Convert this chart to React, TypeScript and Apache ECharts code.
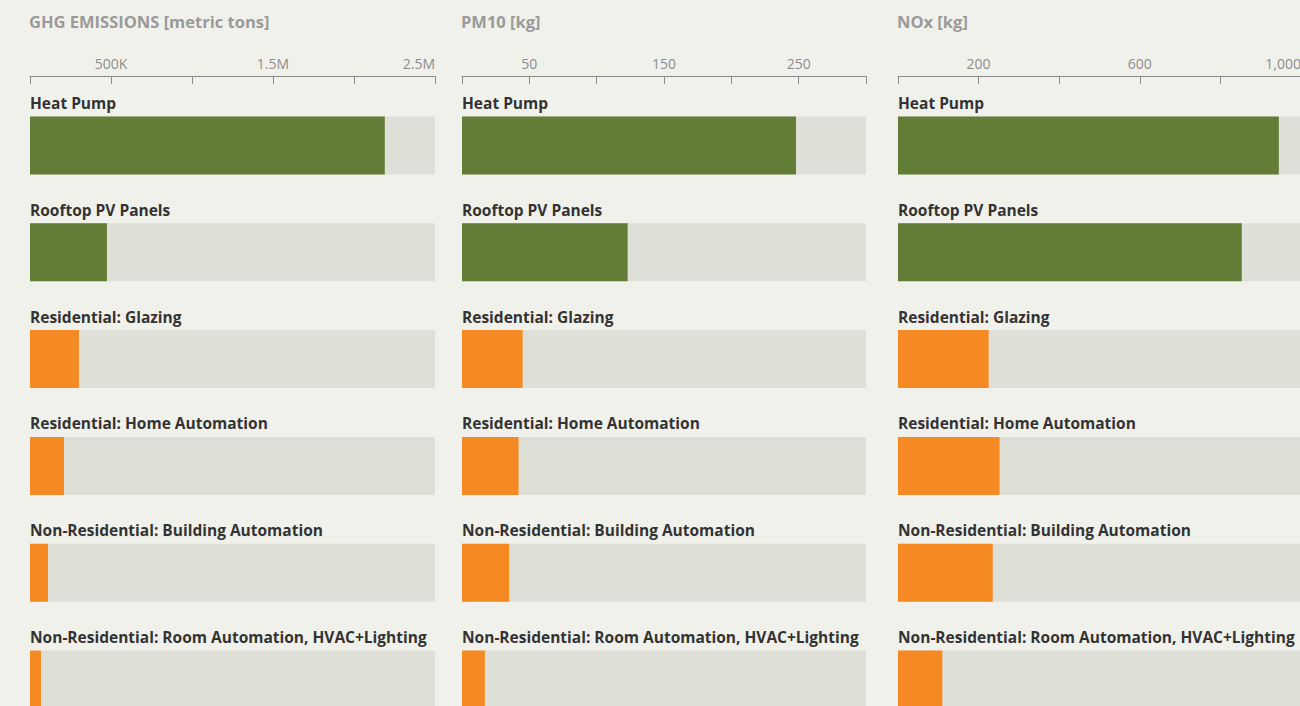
import React, { useEffect, useRef } from "react";
import * as echarts from "echarts";

const categories = [
  "Heat Pump",
  "Rooftop PV Panels",
  "Residential: Glazing",
  "Residential: Home Automation",
  "Non-Residential: Building Automation",
  "Non-Residential: Room Automation, HVAC+Lighting",
];
const categoryGroup = ["generation", "generation", "efficiency", "efficiency", "efficiency", "efficiency"];

const ghgValues = [2190000, 475000, 302000, 210000, 111000, 68000];
const pm10Values = [248, 123, 45, 42, 35, 17];
const noxValues = [945, 853, 225, 252, 235, 110];

const panelTitles = ["GHG EMISSIONS [metric tons]", "PM10 [kg]", "NOx [kg]"];

const ghgTicks = [0, 500000, 1000000, 1500000, 2000000, 2500000];
const ghgTickLabels = ["", "500K", "", "1.5M", "", "2.5M"];
const pm10Ticks = [0, 50, 100, 150, 200, 250, 300];
const pm10TickLabels = ["", "50", "", "150", "", "250", ""];
const noxTicks = [0, 200, 400, 600, 800, 1000];
const noxTickLabels = ["", "200", "", "600", "", "1,000"];

const GREEN = "#647d36";
const ORANGE = "#f58923";
const TRACK = "#dedfd7";
const PAGE = "#f1f1ec";

export default function App() {
  const ref = useRef<HTMLDivElement>(null);

  useEffect(() => {
    document.body.style.margin = "0";
    if (!ref.current) return;
    const chart = echarts.init(ref.current, undefined, { renderer: "svg" });

    const panels = [
      { left: 30, width: 405, values: ghgValues, ticks: ghgTicks, labels: ghgTickLabels },
      { left: 462, width: 404, values: pm10Values, ticks: pm10Ticks, labels: pm10TickLabels },
      { left: 898, width: 403, values: noxValues, ticks: noxTicks, labels: noxTickLabels },
    ];

    const gridTop = 92;
    const gridHeight = 641;

    const option: any = {
      animation: false,
      backgroundColor: PAGE,
      title: panels.map((p, i) => ({
        text: panelTitles[i],
        left: p.left - 1,
        top: 13,
        padding: 0,
        textStyle: {
          fontFamily: "Open Sans",
          fontWeight: "bold",
          fontSize: 16.5,
          color: "#9a9a9a",
        },
      })),
      grid: panels.map((p) => ({
        left: p.left,
        width: p.width,
        top: gridTop,
        height: gridHeight,
        containLabel: false,
        outerBoundsMode: "none",
      })),
      xAxis: panels.map((p, i) => ({
        type: "value",
        gridIndex: i,
        position: "top",
        offset: 16,
        min: p.ticks[0],
        max: p.ticks[p.ticks.length - 1],
        interval: p.ticks[1] - p.ticks[0],
        axisLine: { show: true, lineStyle: { color: "#8c8c8c", width: 1 } },
        axisTick: { show: true, inside: true, length: 8, lineStyle: { color: "#8c8c8c", width: 1 } },
        splitLine: { show: false },
        axisLabel: {
          show: true,
          margin: 6,
          fontFamily: "Open Sans",
          fontSize: 14,
          color: "#8c8c8c",
          showMinLabel: true,
          showMaxLabel: true,
          alignMaxLabel: "right",
          hideOverlap: false,
          formatter: (v: number) => {
            const idx = p.ticks.indexOf(v);
            return idx >= 0 ? p.labels[idx] : "";
          },
        },
      })),
      yAxis: panels.map((p, i) => ({
        type: "category",
        gridIndex: i,
        inverse: true,
        data: categories,
        show: false,
      })),
      series: panels.map((p, i) => ({
        type: "bar",
        xAxisIndex: i,
        yAxisIndex: i,
        barWidth: 58,
        showBackground: true,
        backgroundStyle: { color: TRACK },
        data: p.values.map((v, j) => ({
          value: v,
          itemStyle: { color: categoryGroup[j] === "generation" ? GREEN : ORANGE },
        })),
        label: {
          show: true,
          position: [0, -13.5],
          align: "left",
          verticalAlign: "middle",
          formatter: "{b}",
          fontFamily: "Open Sans",
          fontWeight: "bold",
          fontSize: 15.5,
          color: "#333333",
        },
      })),
    };

    chart.setOption(option);
    return () => chart.dispose();
  }, []);

  return (
    <div style={{ width: 1300, height: 706, overflow: "hidden", background: PAGE }}>
      <div ref={ref} style={{ width: 1340, height: 760 }} />
    </div>
  );
}
